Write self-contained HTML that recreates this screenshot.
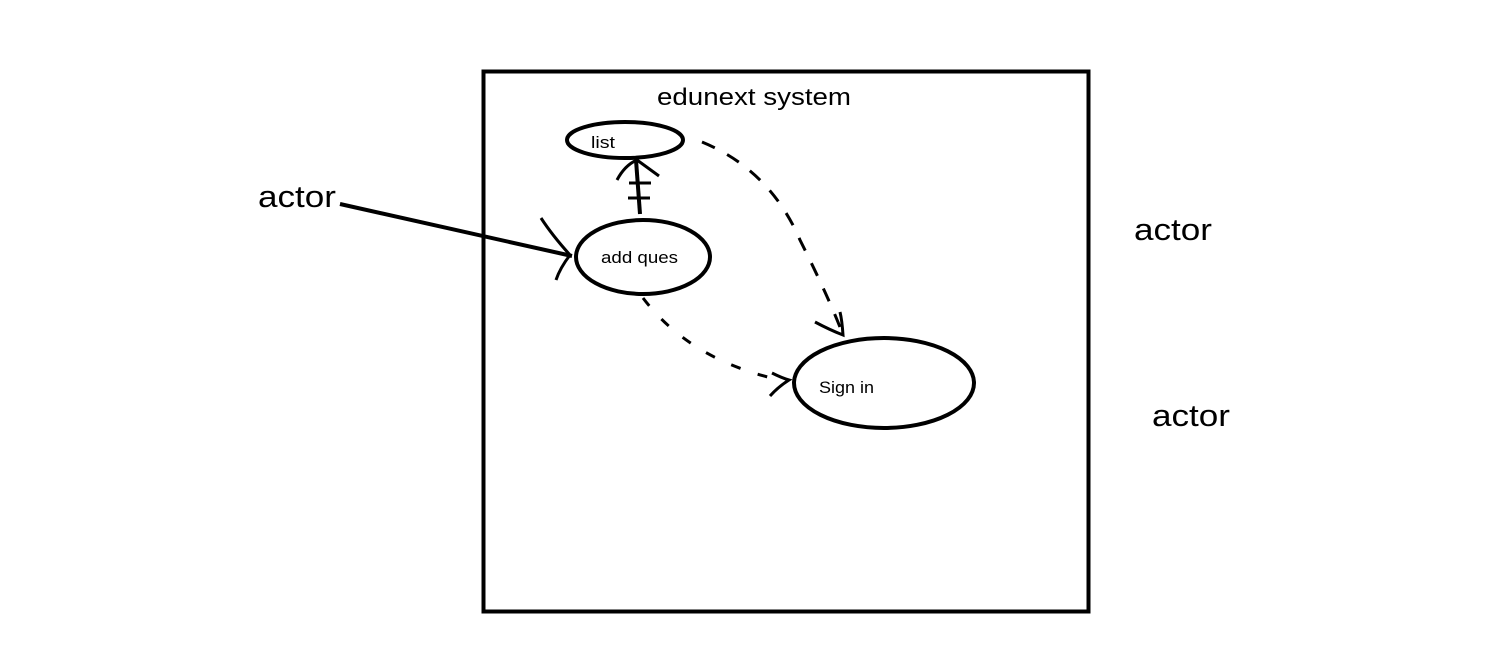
<!DOCTYPE html>
<html><head><style>
body{margin:0;background:#fff;width:1493px;height:648px;overflow:hidden}
svg{display:block}
text{font-family:"Liberation Sans",sans-serif;fill:#000}
</style></head><body>
<svg width="1493" height="648" viewBox="0 0 1493 648">
<rect x="483.5" y="71.5" width="605" height="540" fill="none" stroke="#000" stroke-width="4"/>
<text x="657" y="105" font-size="24" textLength="194" lengthAdjust="spacingAndGlyphs">edunext system</text>
<ellipse cx="625" cy="140" rx="58" ry="18" fill="none" stroke="#000" stroke-width="4"/>
<text x="591" y="148" font-size="17" textLength="24" lengthAdjust="spacingAndGlyphs">list</text>
<ellipse cx="643" cy="257" rx="67" ry="37" fill="none" stroke="#000" stroke-width="4"/>
<text x="601" y="263" font-size="17" textLength="77" lengthAdjust="spacingAndGlyphs">add ques</text>
<ellipse cx="884" cy="383" rx="90" ry="45" fill="none" stroke="#000" stroke-width="4"/>
<text x="819" y="393" font-size="17" textLength="55" lengthAdjust="spacingAndGlyphs">Sign in</text>
<text x="258" y="207" font-size="31" textLength="78" lengthAdjust="spacingAndGlyphs">actor</text>
<text x="1134" y="240" font-size="31" textLength="78" lengthAdjust="spacingAndGlyphs">actor</text>
<text x="1152" y="426" font-size="31" textLength="78" lengthAdjust="spacingAndGlyphs">actor</text>
<g stroke="#000" fill="none" stroke-width="4">
<line x1="340" y1="204" x2="572" y2="256"/>
<path d="M541 218 Q552 235 570 255 Q560 268 556 280" stroke-width="3"/>
<line x1="640" y1="214" x2="636" y2="160"/>
<path d="M617 180 Q625 165 637 160 Q648 168 659 176" stroke-width="3"/>
<line x1="629" y1="183" x2="651" y2="183" stroke-width="3"/>
<line x1="628" y1="198" x2="650" y2="198" stroke-width="3"/>
<path d="M702 142 Q770 170 800 240 Q830 300 843 335" stroke-dasharray="14 14" stroke-width="3"/>
<path d="M815 322 Q830 330 843 335 Q842 320 840 312" stroke-width="3"/>
<path d="M643 298 Q690 360 780 380" stroke-dasharray="10 18" stroke-width="3"/>
<path d="M772 373 Q782 378 789 380 Q778 387 770 396" stroke-width="3"/>
</g>
</svg>
</body></html>
